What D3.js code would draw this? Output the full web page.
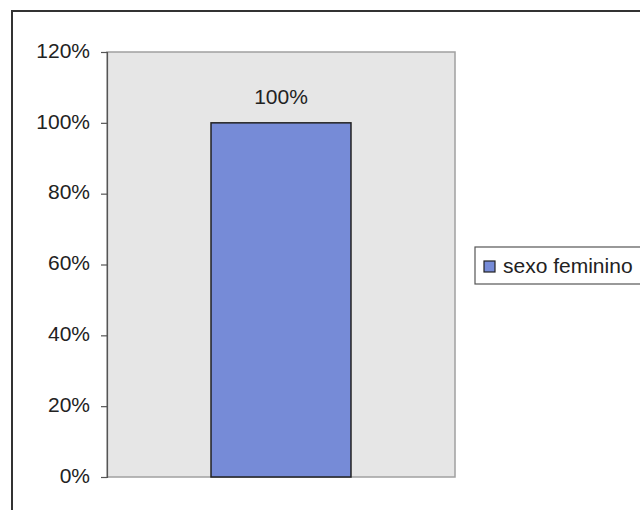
<!DOCTYPE html>
<html>
<head>
<meta charset="utf-8">
<script src="https://cdn.jsdelivr.net/npm/d3@7"></script>
<style>
  html, body { margin: 0; padding: 0; background: #fff; }
  svg { display: block; }
  text { font-family: Arial, "Liberation Sans", sans-serif; fill: #222; }
</style>
</head>
<body>
<svg id="chart" width="640" height="510"></svg>
<script>
// Data
const categories = ["sexo feminino"];
const values = [1.0];
const yTicks = [0, 0.2, 0.4, 0.6, 0.8, 1.0, 1.2];
const seriesName = "sexo feminino";

const svg = d3.select("#chart");
const W = 640, H = 510;
const plot = { left: 107, right: 455, top: 52, bottom: 477 };
const fontSize = 21;
const barColor = "#768bd7";

// Outer chart frame (extends past the right and bottom edges)
svg.append("path")
  .attr("d", `M12,${H + 5} L12,11 L${W + 5},11`)
  .attr("fill", "none")
  .attr("stroke", "#333")
  .attr("stroke-width", 2);

const x = d3.scaleBand()
  .domain(categories)
  .range([plot.left, plot.right])
  .paddingInner(0)
  .paddingOuter(0.743);

const y = d3.scaleLinear()
  .domain([0, 1.2])
  .range([plot.bottom, plot.top]);

// Plot area background
svg.append("rect")
  .attr("x", plot.left)
  .attr("y", plot.top)
  .attr("width", plot.right - plot.left)
  .attr("height", plot.bottom - plot.top)
  .attr("fill", "#e6e6e6")
  .attr("stroke", "#a0a0a0")
  .attr("stroke-width", 1.5);

// Bars
svg.selectAll("rect.bar")
  .data(values)
  .join("rect")
  .attr("class", "bar")
  .attr("x", (d, i) => x(categories[i]))
  .attr("y", d => y(d))
  .attr("width", x.bandwidth())
  .attr("height", d => y(0) - y(d))
  .attr("fill", barColor)
  .attr("stroke", "#222")
  .attr("stroke-width", 1.5);

// Value labels
svg.selectAll("text.val")
  .data(values)
  .join("text")
  .attr("class", "val")
  .attr("x", (d, i) => x(categories[i]) + x.bandwidth() / 2)
  .attr("y", d => y(d) - 19)
  .attr("text-anchor", "middle")
  .attr("font-size", fontSize)
  .text(d => d3.format(".0%")(d));

// Y axis
const yAxis = d3.axisLeft(y)
  .tickValues(yTicks)
  .tickFormat(d3.format(".0%"))
  .tickSize(6)
  .tickPadding(11);

const gy = svg.append("g")
  .attr("transform", `translate(${plot.left},0)`)
  .call(yAxis);
gy.select(".domain").attr("stroke", "#555").attr("stroke-width", 1.2);
gy.selectAll(".tick line").attr("stroke", "#555").attr("stroke-width", 1.2);
gy.selectAll(".tick text")
  .attr("font-size", fontSize)
  .attr("dy", "0.25em")
  .attr("fill", "#222")
  .attr("font-family", "Arial, 'Liberation Sans', sans-serif");

// Legend
const legend = svg.append("g");
legend.append("rect")
  .attr("x", 475)
  .attr("y", 247)
  .attr("width", 175)
  .attr("height", 37)
  .attr("fill", "#fff")
  .attr("stroke", "#555")
  .attr("stroke-width", 1.2);
legend.append("rect")
  .attr("x", 484)
  .attr("y", 261)
  .attr("width", 11)
  .attr("height", 11)
  .attr("fill", barColor)
  .attr("stroke", "#222")
  .attr("stroke-width", 1.2);
legend.append("text")
  .attr("x", 503)
  .attr("y", 273)
  .attr("font-size", fontSize)
  .text(seriesName);
</script>
</body>
</html>
